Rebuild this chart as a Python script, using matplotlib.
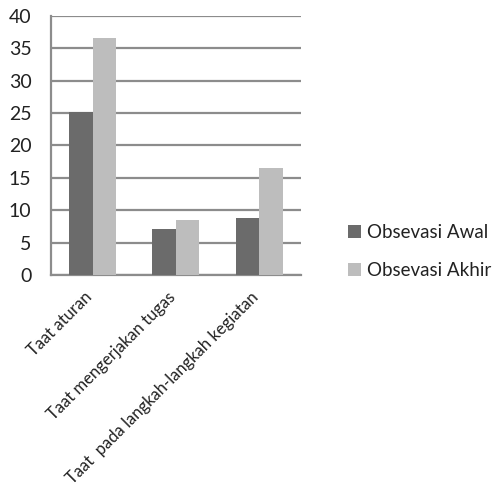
import matplotlib.pyplot as plt
import numpy as np
from matplotlib.transforms import ScaledTranslation

plt.rcParams["font.family"] = ["Lato", "DejaVu Sans"]

kategori = ["Taat aturan", "Taat mengerjakan tugas", "Taat  pada langkah-langkah kegiatan"]
obs_awal = [25.2, 7.2, 8.9]
obs_akhir = [36.5, 8.5, 16.5]
y_ticks = [0, 5, 10, 15, 20, 25, 30, 35, 40]

fig = plt.figure(figsize=(4.92, 4.93), dpi=100)
ax = fig.add_axes([0.1037, 0.4416, 0.508, 0.5266])

x = np.arange(len(kategori))
w = 0.282
ax.bar(x - w / 2, obs_awal, w, color="#6b6b6b", label="Obsevasi Awal", zorder=3)
ax.bar(x + w / 2, obs_akhir, w, color="#bdbdbd", label="Obsevasi Akhir", zorder=3)

ax.set_xlim(-0.5, len(kategori) - 0.5)
ax.set_ylim(0, 40)
ax.set_yticks(y_ticks)
ax.tick_params(axis="y", length=0, pad=14, labelsize=14, labelcolor="#222222")
ax.tick_params(axis="x", length=0, pad=4, labelsize=12, labelcolor="#222222")
ax.set_xticks(x)
ax.set_xticklabels(kategori, rotation=45, ha="right", rotation_mode="anchor")
# geser label kategori sedikit ke kiri bawah
geser = ScaledTranslation(-0.09, -0.08, fig.dpi_scale_trans)
for lbl in ax.get_xticklabels():
    lbl.set_transform(lbl.get_transform() + geser)

ax.yaxis.grid(True, color="#8c8c8c", linewidth=1.6, zorder=0)
for s in ["top", "right"]:
    ax.spines[s].set_visible(False)
ax.spines["left"].set_color("#8c8c8c")
ax.spines["left"].set_linewidth(1.6)
ax.spines["bottom"].set_color("#8c8c8c")
ax.spines["bottom"].set_linewidth(1.6)

fig.legend(loc="center left", bbox_to_anchor=(0.673, 0.49), frameon=False,
           fontsize=13.5, handlelength=0.7, handleheight=0.7, handletextpad=0.3,
           labelspacing=1.1, labelcolor="#222222")

fig.savefig("out.png")
